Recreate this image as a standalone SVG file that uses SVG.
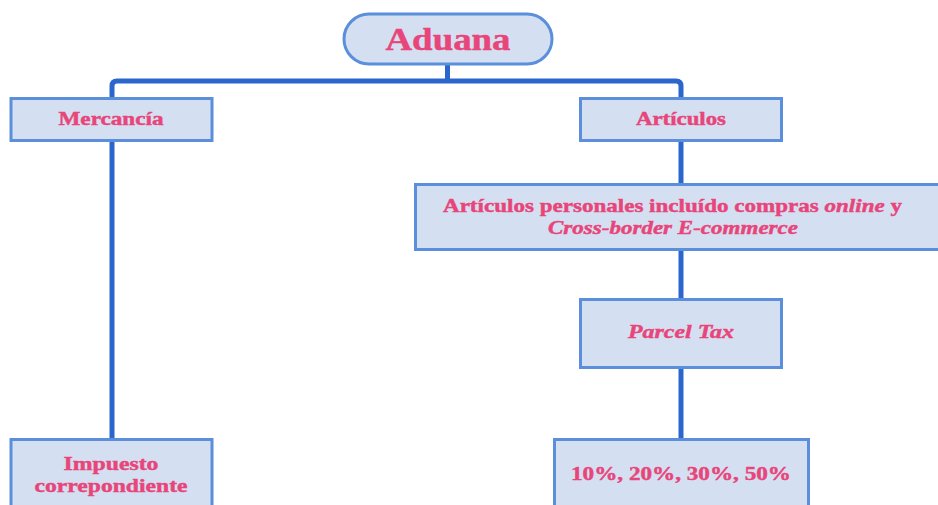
<svg xmlns="http://www.w3.org/2000/svg" width="938" height="505" viewBox="0 0 938 505">
  <style>
    .box { fill: #d4e0f2; stroke: #5b8fdc; stroke-width: 3; }
    .lbl { font-family: "Liberation Serif", "Times New Roman", serif; font-weight: 700; fill: #e8457a; stroke: #e8457a; stroke-width: 0.45; text-anchor: middle; }
    .it { font-style: italic; }
    .wire { fill: none; stroke: #2b66cc; stroke-width: 5; stroke-linejoin: round; }
  </style>
  <rect width="938" height="505" fill="#ffffff"/>

  <!-- connectors -->
  <g id="connectors">
    <path class="wire" d="M447.5 65 V81"/>
    <path class="wire" d="M112 98 V86 Q112 81 117 81 H676 Q681 81 681 86 V98"/>
    <path class="wire" d="M112 141 V439"/>
    <path class="wire" d="M681 141 V184"/>
    <path class="wire" d="M681 250 V299"/>
    <path class="wire" d="M681 368 V439"/>
  </g>

  <g id="aduana">
    <rect class="box" x="344" y="14" width="208" height="50" rx="25" ry="25" stroke-width="2.5"/>
    <text class="lbl" x="448" y="50" font-size="32" textLength="125" lengthAdjust="spacingAndGlyphs">Aduana</text>
  </g>

  <g id="mercancia">
    <rect class="box" x="11" y="98.5" width="201" height="42"/>
    <text class="lbl" x="111" y="125" font-size="19" textLength="105" lengthAdjust="spacingAndGlyphs">Mercancía</text>
  </g>

  <g id="articulos">
    <rect class="box" x="580.5" y="98.5" width="201" height="42"/>
    <text class="lbl" x="681" y="125" font-size="19" textLength="90" lengthAdjust="spacingAndGlyphs">Artículos</text>
  </g>

  <g id="articulos-personales">
    <rect class="box" x="415.5" y="184.5" width="530" height="65"/>
    <text class="lbl" x="672.5" y="212" font-size="19" textLength="459" lengthAdjust="spacingAndGlyphs">Artículos personales incluído compras <tspan class="it">online</tspan> y</text>
    <text class="lbl it" x="673" y="234" font-size="19" textLength="250" lengthAdjust="spacingAndGlyphs">Cross-border E-commerce</text>
  </g>

  <g id="parcel-tax">
    <rect class="box" x="580.5" y="299.5" width="201" height="68"/>
    <text class="lbl it" x="681" y="338" font-size="19" textLength="106" lengthAdjust="spacingAndGlyphs">Parcel Tax</text>
  </g>

  <g id="impuesto">
    <rect class="box" x="11" y="439.5" width="201" height="75"/>
    <text class="lbl" x="111" y="470" font-size="19" textLength="95" lengthAdjust="spacingAndGlyphs">Impuesto</text>
    <text class="lbl" x="111" y="492" font-size="19" textLength="153" lengthAdjust="spacingAndGlyphs">correpondiente</text>
  </g>

  <g id="porcentajes">
    <rect class="box" x="554.5" y="439.5" width="254" height="75"/>
    <text class="lbl" x="681" y="480" font-size="19" textLength="220" lengthAdjust="spacingAndGlyphs">10%, 20%, 30%, 50%</text>
  </g>
</svg>
